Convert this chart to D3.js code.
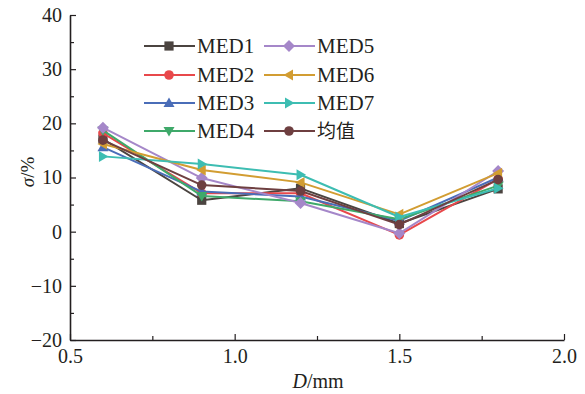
<!DOCTYPE html>
<html>
<head>
<meta charset="utf-8">
<script src="https://cdn.jsdelivr.net/npm/d3@7"></script>
<style>
  body { margin: 0; background: #fff; }
  svg text { font-family: 'Times New Roman', 'Liberation Serif', 'DejaVu Serif', Times, serif; fill: #231f20; }
  svg text.cjk { font-family: 'Noto Sans CJK SC', sans-serif; }
</style>
</head>
<body>
<svg id="chart" width="585" height="394"></svg>
<script>
const xValues = [0.6, 0.9, 1.2, 1.5, 1.8];
const seriesNames = ['MED1', 'MED2', 'MED3', 'MED4', 'MED5', 'MED6', 'MED7', '均值'];
const med1 = [17.1, 5.8, 8.0, 1.5, 7.9];
const med2 = [18.2, 7.1, 7.1, -0.6, 9.7];
const med3 = [15.6, 7.4, 6.5, 2.0, 10.0];
const med4 = [18.7, 6.6, 5.6, 2.3, 8.5];
const med5 = [19.2, 9.9, 5.3, -0.3, 11.2];
const med6 = [16.2, 11.4, 9.1, 3.2, 10.8];
const med7 = [13.9, 12.5, 10.5, 2.7, 8.0];
const meanVals = [16.9, 8.6, 7.5, 1.3, 9.6];
const seriesValues = [med1, med2, med3, med4, med5, med6, med7, meanVals];
const colors = ['#4b4440', '#e8484b', '#4a6db8', '#3fa96a', '#a587c9', '#d29d32', '#3dbdb2', '#6e3f40'];
const symbols = ['square', 'circle', 'up', 'down', 'diamond', 'left', 'right', 'circle'];
const yTicks = [-20, -10, 0, 10, 20, 30, 40];
const xTicks = [0.5, 1.0, 1.5, 2.0];

const svg = d3.select('#chart');
const margin = {top: 15, left: 70, right: 21, bottom: 54};
const width = 585, height = 394;

const x = d3.scaleLinear().domain([0.5, 2.0]).range([margin.left, width - margin.right]);
const y = d3.scaleLinear().domain([-20, 40]).range([height - margin.bottom, margin.top]);

const fmtY = d => d < 0 ? '\u2212' + Math.abs(d) : String(d);

// axes
svg.append('g')
    .attr('transform', `translate(${margin.left},0)`)
    .call(d3.axisLeft(y).tickValues(yTicks).tickFormat(fmtY).tickSizeInner(-6).tickSizeOuter(0).tickPadding(8));
svg.append('g')
    .attr('transform', `translate(${margin.left},0)`)
    .call(d3.axisLeft(y).tickValues(d3.range(-15, 40, 10)).tickFormat('').tickSizeInner(-4).tickSizeOuter(0))
    .select('.domain').remove();

const xAxis = svg.append('g')
    .attr('transform', `translate(0,${height - margin.bottom})`)
    .call(d3.axisBottom(x).tickValues(xTicks).tickFormat(d3.format('.1f')).tickSizeInner(-6).tickSizeOuter(0).tickPadding(6));
svg.append('g')
    .attr('transform', `translate(0,${height - margin.bottom})`)
    .call(d3.axisBottom(x).tickValues([0.75, 1.25, 1.75]).tickFormat('').tickSizeInner(-4).tickSizeOuter(0))
    .select('.domain').remove();

svg.selectAll('g').attr('font-family', null);
svg.selectAll('.domain').attr('stroke', '#231f20').attr('stroke-width', 1.6);
svg.selectAll('.tick line').attr('stroke', '#231f20').attr('stroke-width', 1.2);
svg.selectAll('.tick text').attr('font-size', 20).attr('fill', '#231f20');
xAxis.selectAll('.tick text').attr('dy', '0.85em');

// axis titles
const xt = svg.append('text')
    .attr('x', 318).attr('y', 388)
    .attr('text-anchor', 'middle').attr('font-size', 20);
xt.append('tspan').attr('font-style', 'italic').text('D');
xt.append('tspan').text('/mm');

const yt = svg.append('text')
    .attr('transform', 'translate(34,172) rotate(-90)')
    .attr('text-anchor', 'middle').attr('font-size', 19);
yt.append('tspan').attr('font-style', 'italic').text('σ');
yt.append('tspan').text('/%');

function drawMarker(g, kind, cx, cy, color) {
  const s = 4.6;
  let pts;
  if (kind === 'circle') {
    g.append('circle').attr('cx', cx).attr('cy', cy).attr('r', 4.8).attr('fill', color);
    return;
  }
  if (kind === 'square') pts = [[-s, -s], [s, -s], [s, s], [-s, s]];
  if (kind === 'diamond') pts = [[0, -6], [6, 0], [0, 6], [-6, 0]];
  if (kind === 'up') pts = [[0, -5.5], [5.5, 4], [-5.5, 4]];
  if (kind === 'down') pts = [[0, 5.5], [5.5, -4], [-5.5, -4]];
  if (kind === 'left') pts = [[-5.5, 0], [4, -5.5], [4, 5.5]];
  if (kind === 'right') pts = [[5.5, 0], [-4, -5.5], [-4, 5.5]];
  g.append('polygon')
      .attr('points', pts.map(p => [cx + p[0], cy + p[1]].join(',')).join(' '))
      .attr('fill', color);
}

const line = d3.line().x((d, i) => x(xValues[i])).y(d => y(d));

seriesValues.forEach((vals, si) => {
  const g = svg.append('g');
  g.append('path')
      .attr('d', line(vals))
      .attr('fill', 'none')
      .attr('stroke', colors[si])
      .attr('stroke-width', 2)
      .attr('stroke-linejoin', 'round');
  vals.forEach((v, i) => drawMarker(g, symbols[si], x(xValues[i]), y(v), colors[si]));
});

// legend
const legendRows = [46, 75, 103, 131];
seriesNames.forEach((name, si) => {
  const col = Math.floor(si / 4);
  const row = si % 4;
  const lx = col === 0 ? 144 : 264;
  const ly = legendRows[row];
  const g = svg.append('g');
  g.append('line')
      .attr('x1', lx).attr('x2', lx + 51)
      .attr('y1', ly).attr('y2', ly)
      .attr('stroke', colors[si]).attr('stroke-width', 2);
  drawMarker(g, symbols[si], lx + 25, ly, colors[si]);
  g.append('text')
      .attr('class', si === 7 ? 'cjk' : null)
      .attr('x', lx + 53).attr('y', ly + 7)
      .attr('font-size', si === 7 ? 19 : 21)
      .text(name);
});
</script>
</body>
</html>
